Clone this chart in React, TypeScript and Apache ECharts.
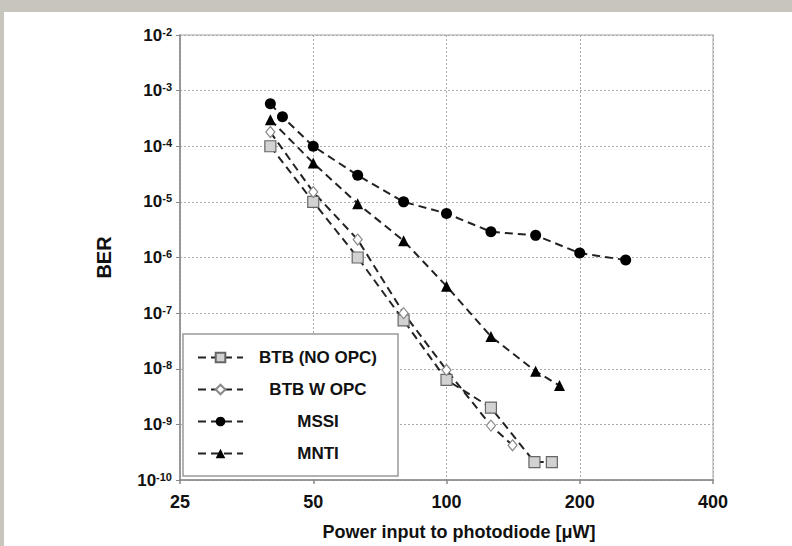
import React, { useEffect, useRef } from "react";
import * as echarts from "echarts";

const xTicks = [25, 50, 100, 200, 400];
const yTicks = [1e-10, 1e-9, 1e-8, 1e-7, 1e-6, 1e-5, 1e-4, 1e-3, 1e-2];

const seriesNames = ["BTB (NO OPC)", "BTB W OPC", "MSSI", "MNTI"];

const btbNoOpcX = [40, 50, 63, 80, 100, 126, 158, 173];
const btbNoOpcY = [1e-4, 1e-5, 1e-6, 7.4e-8, 6.3e-9, 2e-9, 2.1e-10, 2.1e-10];

const btbWOpcX = [40, 50, 63, 80, 100, 126, 141];
const btbWOpcY = [1.8e-4, 1.5e-5, 2.1e-6, 1e-7, 9.5e-9, 9.5e-10, 4.2e-10];

const mssiX = [40, 42.6, 50, 63, 80, 100, 126, 159, 200, 254];
const mssiY = [5.8e-4, 3.4e-4, 1e-4, 3e-5, 1e-5, 6.2e-6, 2.9e-6, 2.5e-6, 1.2e-6, 9e-7];

const mntiX = [40, 50, 63, 80, 100, 126, 159, 180];
const mntiY = [3e-4, 5e-5, 9.3e-6, 2e-6, 3.05e-7, 3.8e-8, 9e-9, 5e-9];

const zip = (xs: number[], ys: number[]) => xs.map((x, i) => [x, ys[i]]);

const FONT = "'Liberation Sans', Arial, sans-serif";

export default function App() {
  const ref = useRef<HTMLDivElement>(null);
  useEffect(() => {
    if (!ref.current) return;
    const chart = echarts.init(ref.current, undefined, { renderer: "svg" });
    const lineStyle = { color: "#222", width: 2, type: [8, 5] as any };
    const mk = (
      name: string,
      data: number[][],
      symbol: string,
      size: any,
      fill: string,
      border: string,
      bw: number
    ) => ({
      name,
      type: "line",
      data,
      symbol,
      symbolSize: size,
      showSymbol: true,
      lineStyle,
      itemStyle: { color: fill, borderColor: border, borderWidth: bw },
      emphasis: { disabled: true },
    });
    chart.setOption({
      animation: false,
      backgroundColor: "transparent",
      textStyle: { fontFamily: FONT },
      grid: {
        left: 180,
        right: 79,
        top: 35,
        bottom: 62,
        show: true,
        borderColor: "#c4c4c4",
        borderWidth: 1.5,
        backgroundColor: "transparent",
      },
      legend: {
        orient: "vertical",
        left: 183,
        top: 334,
        width: 214,
        padding: [15, 10, 14, 14],
        itemWidth: 45,
        itemHeight: 12,
        itemGap: 15,
        backgroundColor: "#fff",
        borderColor: "#999",
        borderWidth: 1.5,
        data: seriesNames,
        formatter: (n: string) => `{n|${n}}`,
        textStyle: {
          fontFamily: FONT,
          rich: {
            n: {
              width: 140,
              align: "center",
              fontSize: 17,
              fontWeight: "bold",
              lineHeight: 18,
              color: "#111",
              fontFamily: FONT,
            },
          },
        },
      },
      xAxis: {
        type: "log",
        logBase: 2,
        min: 25,
        max: 400,
        name: "Power input to photodiode [\u03bcW]",
        nameLocation: "middle",
        nameGap: 43,
        nameTextStyle: {
          fontSize: 18,
          fontWeight: "bold",
          color: "#111",
          fontFamily: FONT,
          padding: [0, 0, 0, 25],
        },
        axisLine: { show: true, lineStyle: { color: "#888", width: 1.5 } },
        axisTick: {
          show: true,
          length: 4,
          customValues: xTicks,
          lineStyle: { color: "#888", width: 1.5 },
        },
        axisLabel: {
          customValues: xTicks,
          margin: 13,
          fontSize: 18,
          fontWeight: "bold",
          color: "#111",
          fontFamily: FONT,
          formatter: (v: number) => String(Math.round(v)),
        },
        splitLine: {
          show: true,
          lineStyle: { color: "#aaa", type: [2, 2], width: 1 },
        },
      },
      yAxis: {
        type: "log",
        logBase: 10,
        min: 1e-10,
        max: 1e-2,
        name: "BER",
        nameLocation: "middle",
        nameGap: 66,
        nameTextStyle: {
          fontSize: 20,
          fontWeight: "bold",
          color: "#111",
          fontFamily: FONT,
        },
        axisLine: { show: true, lineStyle: { color: "#888", width: 1.5 } },
        axisTick: {
          show: true,
          length: 4,
          customValues: yTicks,
          lineStyle: { color: "#888", width: 1 },
        },
        axisLabel: {
          customValues: yTicks,
          margin: 8,
          formatter: (v: number) => `{b|10}{s|${Math.round(Math.log10(v))}}`,
          rich: {
            b: {
              fontSize: 17,
              fontWeight: "bold",
              color: "#111",
              fontFamily: FONT,
              lineHeight: 18,
            },
            s: {
              fontSize: 11,
              fontWeight: "bold",
              color: "#111",
              fontFamily: FONT,
              verticalAlign: "top",
              lineHeight: 11,
            },
          },
        },
        splitLine: {
          show: true,
          lineStyle: { color: "#aaa", type: [2, 2], width: 1 },
        },
      },
      series: [
        mk(seriesNames[0], zip(btbNoOpcX, btbNoOpcY), "rect", 11, "#d2d2d2", "#666", 1.2),
        mk(seriesNames[1], zip(btbWOpcX, btbWOpcY), "diamond", [9, 11], "#fff", "#888", 1.2),
        mk(seriesNames[2], zip(mssiX, mssiY), "circle", 11, "#000", "#000", 0),
        mk(seriesNames[3], zip(mntiX, mntiY), "triangle", 11, "#000", "#000", 0),
      ],
    });
    return () => chart.dispose();
  }, []);
  return (
    <div
      style={{
        position: "fixed",
        left: 0,
        top: 0,
        width: 792,
        height: 546,
        background: "#c8c5bd",
        overflow: "hidden",
      }}
    >
      <div
        style={{
          position: "absolute",
          left: 4,
          top: 12,
          right: 0,
          bottom: 0,
          background: "#fff",
        }}
      />
      <div
        ref={ref}
        style={{ position: "absolute", left: 0, top: 0, width: 792, height: 546 }}
      />
    </div>
  );
}
